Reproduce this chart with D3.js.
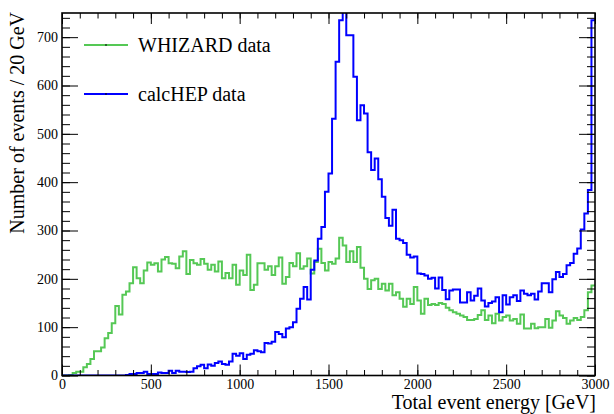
<!DOCTYPE html>
<html><head><meta charset="utf-8">
<script src="https://cdn.jsdelivr.net/npm/d3@7"></script>
<style>
html,body{margin:0;padding:0;background:#fff;}
svg{display:block;}
svg text{font-family:"Liberation Serif","Times New Roman",serif !important;}
</style></head><body>
<svg id="c" width="614" height="414"></svg>
<script>
// ---- data (20 GeV bins from 0 to 3000 GeV) ----
const binWidth = 20;
const whizard = [0,0,1,5,8,8,17,24,34,50,50,58,77,88,108,144,126,167,174,191,
  224,201,191,217,234,229,232,215,240,245,232,231,222,246,257,210,239,232,229,241,
  231,219,229,215,236,201,212,201,229,188,217,208,250,177,188,232,232,219,226,208,
  226,244,190,204,233,226,253,221,226,242,211,235,262,233,217,235,231,242,285,269,
  235,257,235,266,223,200,179,197,200,179,190,176,190,166,172,159,142,159,148,183,
  155,128,159,146,148,146,150,148,140,135,131,128,124,121,115,115,117,125,135,115,
  124,108,128,114,121,124,114,117,107,126,97,97,107,98,100,100,117,99,114,133,
  124,119,107,114,119,115,121,135,172,186];
const calchep = [0,0,0,0,0,0,0,0,0,0,0,0,0,0,0,0,0,0,1,3,
  3,5,5,8,3,3,3,6,5,5,10,5,10,8,8,7,8,15,19,22,
  15,23,20,26,29,24,22,29,45,41,46,34,43,45,52,50,48,67,66,70,
  90,86,79,97,100,110,138,159,183,157,219,238,283,307,380,418,531,649,735,770,
  704,704,618,528,559,542,462,425,449,406,370,326,310,343,283,280,274,250,244,246,
  211,210,207,200,202,180,203,177,158,176,178,178,151,151,172,155,165,180,155,143,
  150,153,162,131,166,147,162,166,154,176,169,166,169,157,174,191,191,172,199,214,
  204,210,228,233,252,263,302,335,384,735];
const xTicks = [0,500,1000,1500,2000,2500,3000];
const yTicks = [0,100,200,300,400,500,600,700];
const seriesNames = ["WHIZARD data","calcHEP data"];
const seriesColors = ["#55c855","#0000ff"];

// ---- layout ----
const FONT = '"Liberation Serif","Times New Roman",serif';
const L=62, R=595, T=13, B=375.5;
const svg = d3.select("#c").attr("font-family", FONT);
const x = d3.scaleLinear().domain([0,3000]).range([L,R]);
const y = d3.scaleLinear().domain([0,750]).range([B,T]);

svg.append("defs").append("clipPath").attr("id","clip")
  .append("rect").attr("x",L).attr("y",T).attr("width",R-L).attr("height",B-T);

const line = d3.line().x(d=>x(d[0])).y(d=>y(d[1])).curve(d3.curveStepAfter);
function pts(vals){
  const p = vals.map((v,i)=>[i*binWidth, v]);
  p.push([vals.length*binWidth, vals[vals.length-1]]);
  return p;
}
const g = svg.append("g").attr("clip-path","url(#clip)");
[whizard, calchep].forEach((vals,k)=>{
  g.append("path").attr("d", line(pts(vals)))
   .attr("fill","none").attr("stroke",seriesColors[k]).attr("stroke-width",2)
   .attr("stroke-linejoin","miter");
});

// ---- axes (ROOT style, inward ticks) ----
const xMinor = d3.range(0,3001,100);
const yMinor = d3.range(0,751,20);
function styleAxis(sel){
  sel.attr("font-family", FONT).attr("font-size", 14);
  sel.select(".domain").remove();
  sel.selectAll("line").attr("stroke","#000").attr("stroke-width",1);
  sel.selectAll("text").attr("fill","#000").attr("font-family", FONT).attr("font-size", 14);
}
// bottom
svg.append("g").attr("transform",`translate(0,${B})`)
  .call(d3.axisBottom(x).tickValues(xMinor).tickSize(-5.5).tickFormat(""))
  .call(styleAxis);
svg.append("g").attr("transform",`translate(0,${B})`)
  .call(d3.axisBottom(x).tickValues(xTicks).tickSize(-11).tickPadding(4).tickFormat(d3.format("d")))
  .call(styleAxis);
// top
svg.append("g").attr("transform",`translate(0,${T})`)
  .call(d3.axisTop(x).tickValues(xMinor).tickSize(-5.5).tickFormat(""))
  .call(styleAxis);
svg.append("g").attr("transform",`translate(0,${T})`)
  .call(d3.axisTop(x).tickValues(xTicks).tickSize(-11).tickFormat(""))
  .call(styleAxis);
// left
svg.append("g").attr("transform",`translate(${L},0)`)
  .call(d3.axisLeft(y).tickValues(yMinor).tickSize(-8).tickFormat(""))
  .call(styleAxis);
svg.append("g").attr("transform",`translate(${L},0)`)
  .call(d3.axisLeft(y).tickValues(yTicks).tickSize(-16).tickPadding(4).tickFormat(d3.format("d")))
  .call(styleAxis);
// right
svg.append("g").attr("transform",`translate(${R},0)`)
  .call(d3.axisRight(y).tickValues(yMinor).tickSize(-8).tickFormat(""))
  .call(styleAxis);
svg.append("g").attr("transform",`translate(${R},0)`)
  .call(d3.axisRight(y).tickValues(yTicks).tickSize(-16).tickFormat(""))
  .call(styleAxis);

// frame
svg.append("rect").attr("x",L).attr("y",T).attr("width",R-L).attr("height",B-T)
  .attr("fill","none").attr("stroke","#000").attr("stroke-width",1.6);

// titles
svg.append("text").attr("x",596).attr("y",409).attr("text-anchor","end")
  .attr("font-family", FONT).attr("font-size",20).text("Total event energy [GeV]");
svg.append("text").attr("transform","translate(24,12) rotate(-90)")
  .attr("text-anchor","end").attr("font-family", FONT).attr("font-size",20)
  .text("Number of events / 20 GeV");

// legend
const legY = [45, 94];
seriesNames.forEach((name,k)=>{
  svg.append("line").attr("x1",84).attr("x2",128).attr("y1",legY[k]).attr("y2",legY[k])
    .attr("stroke",seriesColors[k]).attr("stroke-width",2);
  svg.append("rect").attr("x",105.5).attr("y",legY[k]-1).attr("width",1).attr("height",2).attr("fill","#000");
  svg.append("text").attr("x",138).attr("y",legY[k]+7).attr("font-family", FONT)
    .attr("font-size",20).text(name);
});
</script>
</body></html>
